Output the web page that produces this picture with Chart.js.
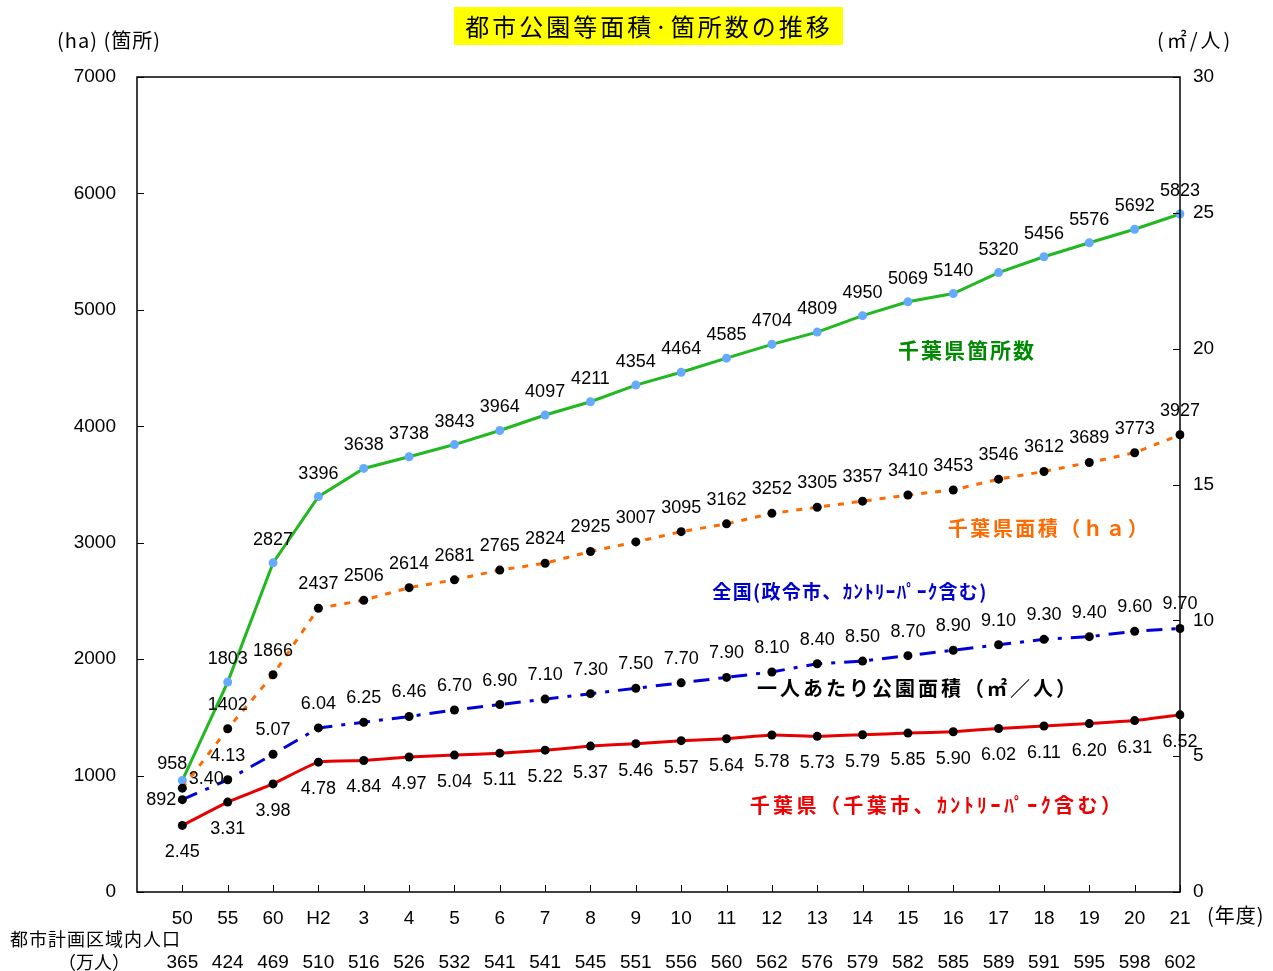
<!DOCTYPE html>
<html lang="ja">
<head>
<meta charset="utf-8">
<title>都市公園等面積·箇所数の推移</title>
<script src="https://cdn.jsdelivr.net/npm/chart.js@4.4.1/dist/chart.umd.min.js"></script>
<style>
  html, body { margin: 0; padding: 0; background: #fff; }
  canvas { display: block; }
</style>
</head>
<body>
<canvas id="parkChart" width="1273" height="971"></canvas>
<script>
'use strict';

// ── Data ──────────────────────────────────────────────────────────────────────

const years = ['50', '55', '60', 'H2', '3', '4', '5', '6', '7', '8', '9', '10',
  '11', '12', '13', '14', '15', '16', '17', '18', '19', '20', '21'];

// 都市計画区域内人口（万人）
const population = [365, 424, 469, 510, 516, 526, 532, 541, 541, 545, 551, 556,
  560, 562, 576, 579, 582, 585, 589, 591, 595, 598, 602];

// 千葉県箇所数
const chibaSites = [958, 1803, 2827, 3396, 3638, 3738, 3843, 3964, 4097, 4211, 4354, 4464,
  4585, 4704, 4809, 4950, 5069, 5140, 5320, 5456, 5576, 5692, 5823];

// 千葉県面積（ha）
const chibaArea = [892, 1402, 1866, 2437, 2506, 2614, 2681, 2765, 2824, 2925, 3007, 3095,
  3162, 3252, 3305, 3357, 3410, 3453, 3546, 3612, 3689, 3773, 3927];

// 一人あたり公園面積 全国（㎡/人）
const nationalPerCapita = [3.40, 4.13, 5.07, 6.04, 6.25, 6.46, 6.70, 6.90, 7.10, 7.30, 7.50, 7.70,
  7.90, 8.10, 8.40, 8.50, 8.70, 8.90, 9.10, 9.30, 9.40, 9.60, 9.70];

// 一人あたり公園面積 千葉県（㎡/人）
const chibaPerCapita = [2.45, 3.31, 3.98, 4.78, 4.84, 4.97, 5.04, 5.11, 5.22, 5.37, 5.46, 5.57,
  5.64, 5.78, 5.73, 5.79, 5.85, 5.90, 6.02, 6.11, 6.20, 6.31, 6.52];

const leftAxis = { min: 0, max: 7000, step: 1000 };
const rightAxis = { min: 0, max: 30, step: 5 };

// ── Style helpers ─────────────────────────────────────────────────────────────

const NUM_FONT = "'Liberation Sans', Arial, sans-serif";
const JP_FONT = "'Noto Sans CJK JP', 'Noto Sans', sans-serif";

// leading empty slot so the first year sits one step in from the axis
const labels = [''].concat(years);
const pad = arr => [null].concat(arr);

function lineDataset(data, color, axis, opts = {}) {
  return {
    data: pad(data),
    yAxisID: axis,
    borderColor: color,
    backgroundColor: color,
    borderWidth: 3,
    pointRadius: 4.5,
    pointBorderWidth: 0,
    pointBackgroundColor: '#000',
    tension: 0,
    spanGaps: false,
    ...opts,
  };
}

// label offsets from each point (dy per series, first point nudged)
const labelStyle = {
  sites:    { dy: -23, first: [-10, -16], fmt: v => String(v) },
  area:     { dy: -24, first: [-21, 12],  fmt: v => String(v) },
  national: { dy: -24, first: [24, -21],  fmt: v => v.toFixed(2) },
  chiba:    { dy: 27,  first: [0, 27],    fmt: v => v.toFixed(2) },
};

// ── Drawing plugin ────────────────────────────────────────────────────────────

function text(ctx, str, x, y, font, color, align = 'center', spacing = '0px') {
  ctx.font = font;
  ctx.fillStyle = color;
  ctx.textAlign = align;
  ctx.textBaseline = 'middle';
  ctx.letterSpacing = spacing;
  ctx.fillText(str, x, y);
  ctx.letterSpacing = '0px';
}

const decor = {
  id: 'decor',
  afterDatasetsDraw(chart) {
    const { ctx, chartArea: a } = chart;
    const xs = chart.scales.x;
    const yl = chart.scales.yLeft;
    const yr = chart.scales.yRight;

    ctx.save();

    // frame + inward tick marks
    ctx.strokeStyle = '#000';
    ctx.lineWidth = 1.5;
    ctx.strokeRect(a.left, a.top, a.right - a.left, a.bottom - a.top);
    ctx.lineWidth = 1;
    ctx.beginPath();
    yl.ticks.forEach((t, i) => {
      const y = Math.round(yl.getPixelForTick(i)) + 0.5;
      ctx.moveTo(a.left, y); ctx.lineTo(a.left + 7, y);
    });
    yr.ticks.forEach((t, i) => {
      const y = Math.round(yr.getPixelForTick(i)) + 0.5;
      ctx.moveTo(a.right - 7, y); ctx.lineTo(a.right, y);
    });
    years.forEach((yr_, i) => {
      const x = Math.round(xs.getPixelForValue(i + 1)) + 0.5;
      ctx.moveTo(x, a.bottom); ctx.lineTo(x, a.bottom - 7);
    });
    ctx.stroke();

    // value labels
    chart.data.datasets.forEach((ds, di) => {
      const st = labelStyle[ds.key];
      const meta = chart.getDatasetMeta(di);
      meta.data.forEach((pt, i) => {
        const v = ds.data[i];
        if (v == null) return;
        const [dx, dy] = i === 1 ? st.first : [0, st.dy];
        text(ctx, st.fmt(v), pt.x + dx, pt.y + dy, `18px ${NUM_FONT}`, '#000');
      });
    });

    // series notes
    text(ctx, '千葉県箇所数', 967, 350, `bold 21px ${JP_FONT}`, '#008a00', 'center', '2px');
    text(ctx, '千葉県面積（ｈａ）', 1049, 528, `bold 20px ${JP_FONT}`, '#ff6a00', 'center', '2.5px');
    text(ctx, '全国(政令市、ｶﾝﾄﾘｰﾊﾟｰｸ含む)', 850, 592, `bold 19px ${JP_FONT}`, '#0000cc', 'center', '1.3px');
    text(ctx, '一人あたり公園面積（㎡／人）', 918, 688, `bold 20px ${JP_FONT}`, '#000', 'center', '3px');
    text(ctx, '千葉県（千葉市、ｶﾝﾄﾘｰﾊﾟｰｸ含む）', 937, 805, `bold 20px ${JP_FONT}`, '#ee0000', 'center', '3.4px');

    // title
    ctx.fillStyle = '#ffff00';
    ctx.fillRect(454, 7, 389, 38);
    text(ctx, '都市公園等面積·箇所数の推移', 649, 27, `24px ${JP_FONT}`, '#000', 'center', '3px');

    // axis units
    text(ctx, '(ha) (箇所)', 57, 40, `20px ${JP_FONT}`, '#000', 'left', '1px');
    text(ctx, '(㎡/人)', 1157, 40, `20px ${JP_FONT}`, '#000', 'left', '3px');
    text(ctx, '(年度)', 1207, 915, `20px ${JP_FONT}`, '#000', 'left', '1px');

    // population row
    text(ctx, '都市計画区域内人口', 10, 939, `18px ${JP_FONT}`, '#000', 'left', '1px');
    text(ctx, '（万人）', 58, 962, `18px ${JP_FONT}`, '#000', 'left');
    population.forEach((p, i) => {
      text(ctx, String(p), xs.getPixelForValue(i + 1), 963, `19px ${NUM_FONT}`, '#000');
    });

    ctx.restore();
  },
};

// ── Chart ─────────────────────────────────────────────────────────────────────

const tickFont = { family: NUM_FONT, size: 19 };

new Chart(document.getElementById('parkChart'), {
  type: 'line',
  data: {
    labels,
    datasets: [
      { key: 'chiba', ...lineDataset(chibaPerCapita, '#e60000', 'yRight', { tension: 0.15 }) },
      { key: 'national', ...lineDataset(nationalPerCapita, '#0000d8', 'yRight', { borderDash: [16, 9, 4, 9] }) },
      { key: 'area', ...lineDataset(chibaArea, '#ff6a00', 'yLeft', { borderDash: [6, 8] }) },
      { key: 'sites', ...lineDataset(chibaSites, '#22b822', 'yLeft', { pointBackgroundColor: '#66aaff' }) },
    ],
  },
  options: {
    responsive: false,
    animation: false,
    devicePixelRatio: 1,
    layout: { padding: { top: 77, left: 0, right: 0, bottom: 0 } },
    plugins: { legend: { display: false }, tooltip: { enabled: false }, title: { display: false } },
    scales: {
      x: {
        type: 'category',
        offset: false,
        grid: { display: false },
        border: { display: false },
        ticks: { color: '#000', font: tickFont, autoSkip: false, maxRotation: 0, padding: 7 },
        afterFit: s => { s.height = 79; },
      },
      yLeft: {
        position: 'left',
        min: leftAxis.min,
        max: leftAxis.max,
        grid: { display: false },
        border: { display: false },
        ticks: { stepSize: leftAxis.step, color: '#000', font: tickFont, padding: 13, callback: v => String(v) },
        afterFit: s => { s.width = 137; },
      },
      yRight: {
        position: 'right',
        min: rightAxis.min,
        max: rightAxis.max,
        grid: { display: false },
        border: { display: false },
        ticks: { stepSize: rightAxis.step, color: '#000', font: tickFont, padding: 5 },
        afterFit: s => { s.width = 93; },
      },
    },
  },
  plugins: [decor],
});
</script>
</body>
</html>
